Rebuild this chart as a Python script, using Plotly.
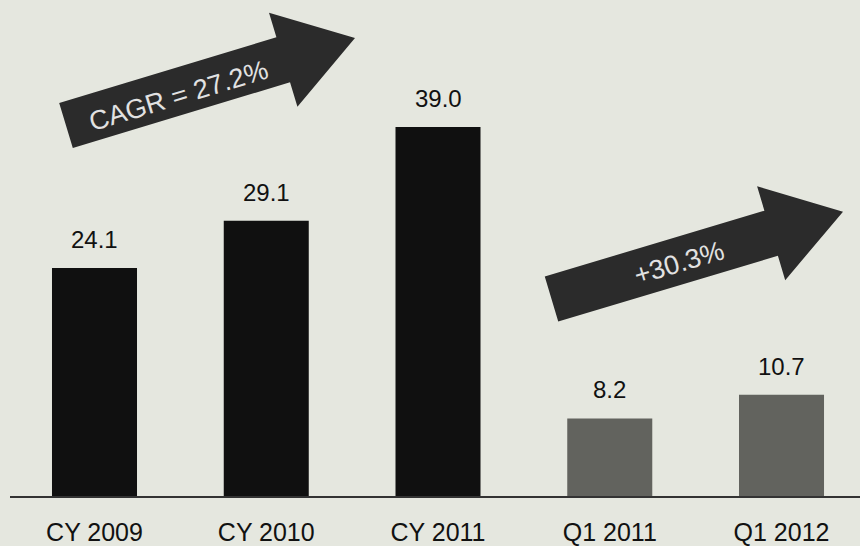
import math
import plotly.graph_objects as go

# Revenue by period
categories = ["CY 2009", "CY 2010", "CY 2011", "Q1 2011", "Q1 2012"]
values = [24.1, 29.1, 39.0, 8.2, 10.7]
bar_colors = ["#101010", "#101010", "#101010", "#62635e", "#62635e"]
value_labels = ["24.1", "29.1", "39.0", "8.2", "10.7"]

# Growth callouts
growth_texts = ["CAGR = 27.2%", "+30.3%"]

W, H = 860, 546
ML, MR, MT, MB = 10, 0, 0, 50
PW, PH = W - ML - MR, H - MT - MB

BG = "#e5e7df"
ARROW = "#2b2b2b"


def px_to_paper(x, y):
    return (x - ML) / PW, (H - MB - y) / PH


def arrow_path(tail, tip, shaft_w, head_w, head_len):
    tx, ty = tail
    hx, hy = tip
    L = math.hypot(hx - tx, hy - ty)
    ux, uy = (hx - tx) / L, (hy - ty) / L
    nx, ny = -uy, ux
    local = [
        (0, shaft_w / 2), (L - head_len, shaft_w / 2), (L - head_len, head_w / 2),
        (L, 0), (L - head_len, -head_w / 2), (L - head_len, -shaft_w / 2),
        (0, -shaft_w / 2),
    ]
    pts = []
    for a, b in local:
        x = tx + ux * a + nx * b
        y = ty + uy * a + ny * b
        pts.append(px_to_paper(x, y))
    return "M " + " L ".join(f"{p[0]:.5f},{p[1]:.5f}" for p in pts) + " Z"


fig = go.Figure(
    go.Bar(
        x=categories,
        y=values,
        marker=dict(color=bar_colors, line=dict(width=0)),
        width=0.495,
        hoverinfo="skip",
    )
)

for c, v, t in zip(categories, values, value_labels):
    fig.add_annotation(
        x=c, y=v, text=t, showarrow=False, yanchor="bottom", yshift=13,
        font=dict(family="Arial, Liberation Sans", size=24, color="#111111"),
    )

# Growth arrows (pixel geometry converted to paper coordinates)
arrows = [
    dict(tail=(66, 125.5), tip=(355, 38), text_at=(178, 96)),
    dict(tail=(551.5, 299), tip=(843, 211.7), text_at=(679, 263)),
]
for arr, txt in zip(arrows, growth_texts):
    fig.add_shape(
        type="path", xref="paper", yref="paper",
        path=arrow_path(arr["tail"], arr["tip"], 47, 98, 75),
        fillcolor=ARROW, line=dict(width=0), layer="above",
    )
    ang = math.degrees(math.atan2(arr["tip"][1] - arr["tail"][1], arr["tip"][0] - arr["tail"][0]))
    px, py = px_to_paper(*arr["text_at"])
    fig.add_annotation(
        xref="paper", yref="paper", x=px, y=py, text=txt, showarrow=False,
        textangle=ang, xanchor="center", yanchor="middle",
        font=dict(family="Arial, Liberation Sans", size=27, color="#e2e2e2"),
    )

fig.update_layout(
    width=W, height=H,
    margin=dict(l=ML, r=MR, t=MT, b=MB, pad=0, autoexpand=False),
    paper_bgcolor=BG, plot_bgcolor=BG,
    showlegend=False,
    bargap=0.5,
    xaxis=dict(
        range=[-0.492, 4.457], showgrid=False, zeroline=False,
        showline=True, linecolor="#333333", linewidth=2,
        ticks="outside", ticklen=13, tickcolor="rgba(0,0,0,0)",
        tickfont=dict(family="Arial, Liberation Sans", size=25, color="#111111"),
        automargin=False, fixedrange=True,
    ),
    yaxis=dict(
        range=[0, 52.43], visible=False, showgrid=False, zeroline=False,
        automargin=False, fixedrange=True,
    ),
)

fig.write_html("out.html", config={"displayModeBar": False})
